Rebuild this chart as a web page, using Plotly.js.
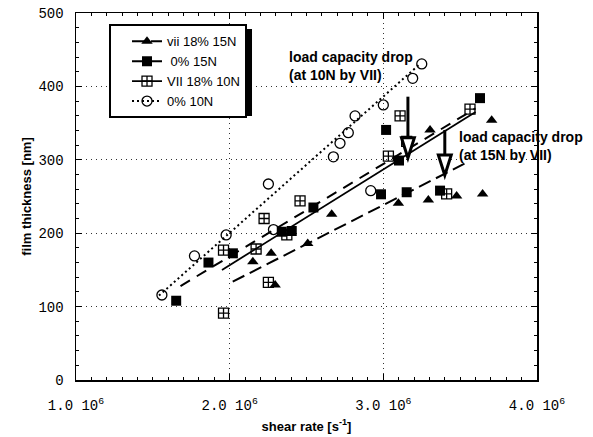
<!DOCTYPE html>
<html><head><meta charset="utf-8">
<script src="https://cdn.plot.ly/plotly-3.0.1.min.js"></script>
<style>html,body{margin:0;padding:0;background:#fff}</style>
</head><body><div id="chart" style="width:593px;height:437px"></div>
<script>
// ---- data (shear rate in units of 10^6 s^-1, film thickness in nm) ----
const seriesNames = ['vii 18% 15N', '\u00a00% 15N', 'VII 18% 10N', '0% 10N'];

const vii15_x = [2.151, 2.27, 2.296, 2.508, 2.664, 3.098, 3.293, 3.304, 3.477, 3.646, 3.705];
const vii15_y = [161, 172.6, 129.5, 186, 225.8, 240.8, 245.3, 340.7, 250.7, 253.5, 354];

const p015_x = [1.652, 1.862, 2.021, 2.339, 2.404, 2.545, 2.985, 3.018, 3.102, 3.152, 3.369, 3.629];
const p015_y = [108, 160, 172.6, 202, 203, 235, 253, 340.7, 299, 255.8, 258, 384];

const vii10_x = [1.96, 1.96, 2.172, 2.224, 2.252, 2.372, 2.458, 3.033, 3.109, 3.152, 3.412, 3.564];
const vii10_y = [91, 177, 178.5, 220, 133, 197.6, 244, 305, 359.8, 325, 253.5, 369];

const p010_x = [1.559, 1.771, 1.977, 2.252, 2.285, 2.675, 2.718, 2.772, 2.816, 2.918, 3.0, 3.191, 3.25];
const p010_y = [115.8, 169, 197.6, 267, 205, 304, 322.5, 337, 359.8, 258, 374.7, 411, 430.6];

// fitted trend lines (end points)
const fitVii15_x = [2.02, 3.55];  const fitVii15_y = [134, 297];
const fitP015_x  = [1.68, 3.60];  const fitP015_y  = [128, 370];
const fitVii10_x = [1.95, 3.60];  const fitVii10_y = [150, 365];
const fitP010_x  = [1.54, 3.23];  const fitP010_y  = [115, 429];

// annotation arrows: [x, yStart, yHeadTop, yTip]
const arrow10 = [3.16, 386, 330, 302.5];
const arrow15 = [3.40, 340.7, 306.6, 279];

const xTickVals = [1, 2, 3, 4];
const xTickText = ['1.0 10<sup>6</sup>', '2.0 10<sup>6</sup>', '3.0 10<sup>6</sup>', '4.0 10<sup>6</sup>'];
const yTickVals = [0, 100, 200, 300, 400, 500];
const yTickText = ['0', '100', '200', '300', '400', '500'];

// ---- styles ----
const styles = [
  {sym: 'triangle-up', size: 10, dash: '13px,6px', width: 2},
  {sym: 'square', size: 10, dash: '11px,8px', width: 2},
  {sym: 'square-cross-open', size: 10, dash: 'solid', width: 1.8},
  {sym: 'circle-open', size: 10, dash: '2px,3px', width: 2}
];
const pts = [[vii15_x, vii15_y], [p015_x, p015_y], [vii10_x, vii10_y], [p010_x, p010_y]];
const fits = [[fitVii15_x, fitVii15_y], [fitP015_x, fitP015_y], [fitVii10_x, fitVii10_y], [fitP010_x, fitP010_y]];

const traces = [];
for (let i = 0; i < 4; i++) {
  const s = styles[i];
  traces.push({
    type: 'scatter', mode: 'lines+markers', name: seriesNames[i],
    x: [null].concat(fits[i][0]), y: [null].concat(fits[i][1]),
    line: {color: '#000', width: s.width, dash: s.dash},
    marker: {symbol: s.sym, size: s.size,
             color: ['#000', 'rgba(0,0,0,0)', 'rgba(0,0,0,0)'],
             line: {color: ['#000', 'rgba(0,0,0,0)', 'rgba(0,0,0,0)'], width: s.sym.indexOf('open') >= 0 ? 1.3 : 0}},
    hoverinfo: 'skip', showlegend: true
  });
}
for (let i = 0; i < 4; i++) {
  const s = styles[i];
  traces.push({
    type: 'scatter', mode: 'markers', name: seriesNames[i],
    x: pts[i][0], y: pts[i][1], showlegend: false,
    marker: {symbol: s.sym, size: s.size, color: '#000',
             line: {color: '#000', width: s.sym.indexOf('open') >= 0 ? 1.3 : 0}}
  });
}

function arrowShapes(a) {
  const hw = 0.042;
  return [
    {type: 'line', xref: 'x', yref: 'y', x0: a[0], x1: a[0], y0: a[1], y1: a[2], line: {color: '#000', width: 3}},
    {type: 'path', xref: 'x', yref: 'y',
     path: 'M ' + (a[0] - hw) + ',' + a[2] + ' L ' + (a[0] + hw) + ',' + a[2] + ' L ' + a[0] + ',' + a[3] + ' Z',
     fillcolor: '#fff', line: {color: '#000', width: 3}}
  ];
}

// drop shadow behind the legend box (paper coordinates)
const legendShadow = {type: 'rect', xref: 'paper', yref: 'paper', layer: 'above',
  x0: 0.0803, x1: 0.3818, y0: 0.7193, y1: 0.9564, fillcolor: '#000', line: {width: 0}};

const annFont = {family: 'Liberation Sans, Arial, sans-serif', size: 14, color: '#000', weight: 'bold'};
const layout = {
  width: 593, height: 437,
  margin: {l: 76, r: 56, t: 13, b: 57},
  paper_bgcolor: '#fff', plot_bgcolor: '#fff',
  showlegend: true,
  legend: {x: 0.0716, y: 0.969, xanchor: 'left', yanchor: 'top',
           bgcolor: '#fff', bordercolor: '#000', borderwidth: 2,
           font: {family: 'Liberation Sans, Arial, sans-serif', size: 13, color: '#000'},
           tracegroupgap: 0, indentation: 16},
  xaxis: {range: [1, 4], tickvals: xTickVals, ticktext: xTickText,
          showline: true, linecolor: '#000', linewidth: 1.5, mirror: 'ticks',
          ticks: 'inside', ticklen: 6, tickcolor: '#000', tickwidth: 1,
          minor: {dtick: 0.1, ticks: 'inside', ticklen: 3, tickcolor: '#000', showgrid: false},
          showgrid: true, gridcolor: '#333', gridwidth: 1, griddash: '1px,4px',
          zeroline: false, ticklabelstandoff: 12,
          tickfont: {family: 'Liberation Mono, Courier New, monospace', size: 14, color: '#000'},
          title: {text: 'shear rate [s<sup>-1</sup>]', standoff: 8,
                  font: {family: 'Liberation Sans, Arial, sans-serif', size: 13, color: '#000', weight: 'bold'}}},
  yaxis: {range: [0, 500], tickvals: yTickVals, ticktext: yTickText,
          showline: true, linecolor: '#000', linewidth: 1.5, mirror: 'ticks',
          ticks: 'inside', ticklen: 6, tickcolor: '#000', tickwidth: 1,
          minor: {dtick: 20, ticks: 'inside', ticklen: 3, tickcolor: '#000', showgrid: false},
          showgrid: true, gridcolor: '#333', gridwidth: 1, griddash: '1px,4px',
          zeroline: false, ticklabelstandoff: 8,
          tickfont: {family: 'Liberation Mono, Courier New, monospace', size: 14, color: '#000'},
          title: {text: 'film thickness [nm]', standoff: 4,
                  font: {family: 'Liberation Sans, Arial, sans-serif', size: 13, color: '#000', weight: 'bold'}}},
  annotations: [
    {xref: 'x', yref: 'y', x: 2.374, y: 440, xanchor: 'left', yanchor: 'middle', showarrow: false, text: 'load capacity drop', font: annFont},
    {xref: 'x', yref: 'y', x: 2.374, y: 416, xanchor: 'left', yanchor: 'middle', showarrow: false, text: '(at 10N by VII)', font: annFont},
    {xref: 'x', yref: 'y', x: 3.48, y: 331, xanchor: 'left', yanchor: 'middle', showarrow: false, text: 'load capacity drop', font: annFont},
    {xref: 'x', yref: 'y', x: 3.48, y: 306.6, xanchor: 'left', yanchor: 'middle', showarrow: false, text: '(at 15N by VII)', font: annFont}
  ],
  shapes: arrowShapes(arrow10).concat(arrowShapes(arrow15)).concat([legendShadow])
};

Plotly.newPlot('chart', traces, layout, {displayModeBar: false, staticPlot: true});
</script>
</body></html>
